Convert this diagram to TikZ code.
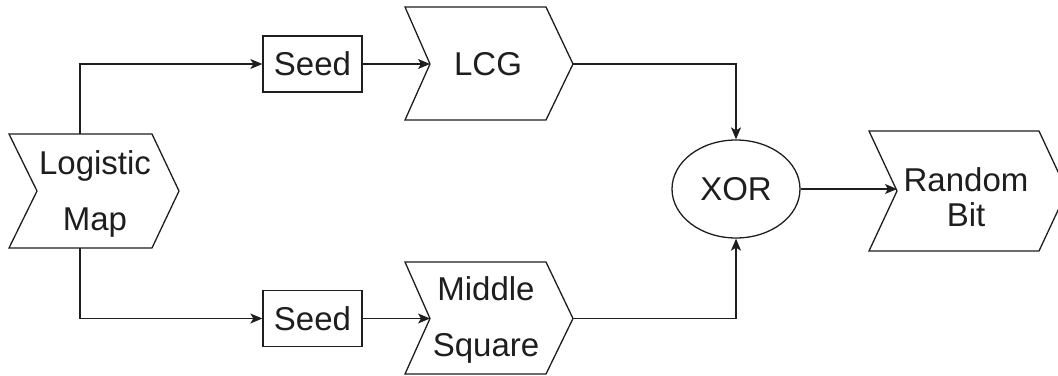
\documentclass[tikz,border=0pt]{standalone}
\usepackage{fontspec}
\setmainfont{Liberation Sans}
\usetikzlibrary{arrows.meta,shapes.geometric}
\definecolor{ink}{RGB}{30,30,30}
\begin{document}
\begin{tikzpicture}[x=1pt,y=-1pt,
  shp/.style={draw=ink, line width=1.3pt, fill=white, line join=miter},
  lbl/.style={text=ink, font=\fontsize{33}{56}\selectfont, align=center, inner sep=0pt},
  lbltight/.style={text=ink, font=\fontsize{33}{35}\selectfont, align=center, inner sep=0pt},
  seedbox/.style={shp, minimum width=99pt, minimum height=56pt, inner sep=0pt, text=ink, font=\fontsize{33}{40}\selectfont},
  conn/.style={draw=ink, line width=1.3pt, -{Stealth[length=12pt,width=10pt,inset=3pt]}},
  ]
\useasboundingbox (0,0) rectangle (1058,375);
\clip (0,0) rectangle (1058,375);

% Logistic Map
\draw[shp] (9,134) -- (152,134) -- (179,191) -- (152,248) -- (9,248) -- (37,191) -- cycle;
\coordinate (lmtop) at (80,134);
\coordinate (lmbot) at (80,248);
\node[lbl] (lm) at (95,194) {Logistic\\Map};

% Seeds
\node[seedbox] (s1) at (312.5,64) {Seed};
\node[seedbox] (s2) at (312.5,318.5) {Seed};

% LCG
\draw[shp] (405,7) -- (546,7) -- (573,64) -- (546,120) -- (405,120) -- (430,64) -- cycle;
\coordinate (lcgin) at (430,64);
\coordinate (lcgout) at (573,64);
\node[lbl] (lcg) at (488,64) {LCG};

% Middle Square
\draw[shp] (405,262) -- (546,262) -- (573,318.5) -- (546,374) -- (405,374) -- (430,318.5) -- cycle;
\coordinate (msin) at (430,318.5);
\coordinate (msout) at (573,318.5);
\node[lbl] (ms) at (486,320) {Middle\\Square};

% XOR
\node[shp, ellipse, minimum width=128pt, minimum height=98pt, inner sep=0pt, text=ink, font=\fontsize{33}{40}\selectfont] (xor) at (736,189) {XOR};

% Random Bit
\draw[shp] (869,131) -- (1039,131) -- (1067,191) -- (1039,251) -- (869,251) -- (897,191) -- cycle;
\coordinate (rbin) at (897,189);
\node[lbltight] (rb) at (966,197) {Random\\Bit};

% connectors
\draw[conn] (lmtop) |- (s1.west);
\draw[conn] (lmbot) |- (s2.west);
\draw[conn] (s1.east) -- (lcgin);
\draw[conn] (s2.east) -- (msin);
\draw[conn] (lcgout) -| (xor.north);
\draw[conn] (msout) -| (xor.south);
\draw[conn] (xor.east) -- (rbin);
\end{tikzpicture}
\end{document}
